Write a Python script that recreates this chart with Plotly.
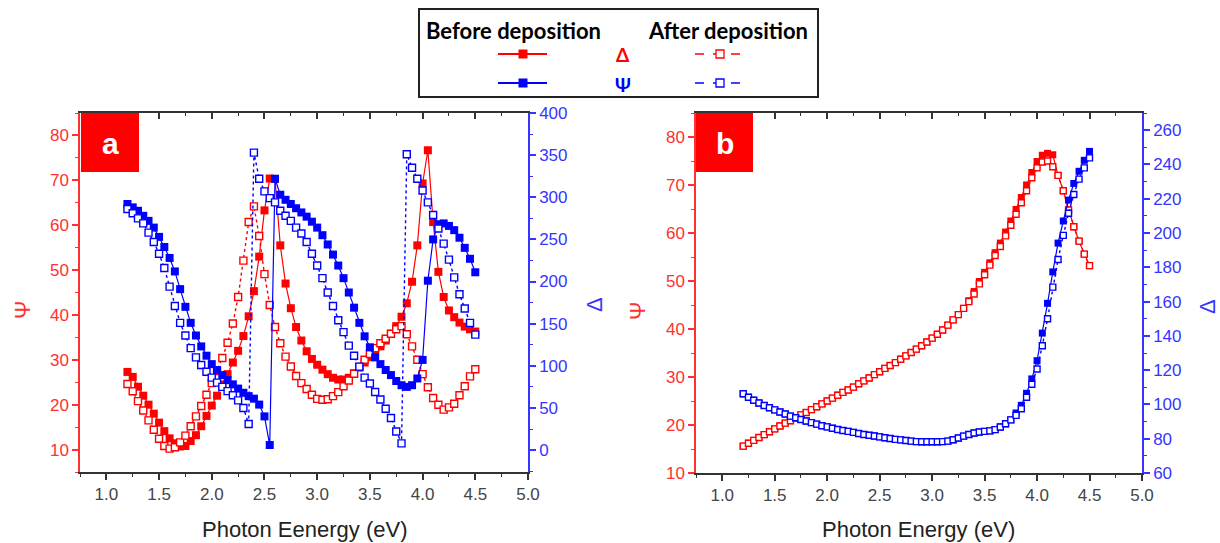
import plotly.graph_objects as go

# ---------------- data ----------------
energy = [1.20, 1.25, 1.30, 1.35, 1.40, 1.45, 1.50, 1.55, 1.60, 1.65,
          1.70, 1.75, 1.80, 1.85, 1.90, 1.95, 2.00, 2.05, 2.10, 2.15,
          2.20, 2.25, 2.30, 2.35, 2.40, 2.45, 2.50, 2.55, 2.60, 2.65,
          2.70, 2.75, 2.80, 2.85, 2.90, 2.95, 3.00, 3.05, 3.10, 3.15,
          3.20, 3.25, 3.30, 3.35, 3.40, 3.45, 3.50, 3.55, 3.60, 3.65,
          3.70, 3.75, 3.80, 3.85, 3.90, 3.95, 4.00, 4.05, 4.10, 4.15,
          4.20, 4.25, 4.30, 4.35, 4.40, 4.45, 4.50]

# panel a
psi_before_a = [27.3, 26.2, 24.0, 22.0, 20.0, 18.0, 16.0, 14.1, 12.5, 11.4,
                10.7, 10.8, 11.9, 13.2, 15.2, 17.5, 19.8, 22.0, 24.5, 26.8,
                29.4, 32.0, 35.3, 39.7, 45.3, 53.0, 63.3, 70.4, 70.3, 55.5,
                47.0, 41.5, 37.3, 34.3, 31.9, 30.2, 28.9, 27.8, 26.8, 26.0,
                25.6, 25.6, 26.0, 27.0, 28.3, 29.4, 30.6, 31.8, 33.0, 34.3,
                35.8, 37.5, 39.6, 42.6, 47.4, 55.5, 69.3, 76.7, 60.7, 49.6,
                44.0, 41.0, 39.5, 38.3, 37.4, 36.8, 36.3]
psi_after_a = [24.6, 23.0, 20.8, 18.7, 16.5, 14.4, 12.4, 10.8, 10.2, 10.5,
               11.6, 13.1, 15.2, 17.4, 19.7, 22.2, 24.8, 27.5, 30.4, 33.8,
               38.1, 44.0, 52.1, 60.7, 64.2, 57.6, 49.1, 42.2, 37.3, 33.7,
               30.7, 28.5, 26.4, 24.8, 23.5, 22.2, 21.3, 21.1, 21.2, 21.9,
               22.8, 24.1, 25.4, 26.9, 28.4, 30.0, 31.3, 32.6, 33.7, 34.7,
               35.8, 36.8, 37.5, 35.7, 33.0, 30.0, 26.8, 23.9, 21.5, 20.0,
               18.9, 19.4, 20.2, 22.1, 24.1, 26.3, 27.9]
delta_before_a = [292, 288, 284, 278, 272, 264, 253, 241, 228, 212,
                  191, 170, 151, 136, 123, 112, 102, 95, 89, 83,
                  78, 73, 68, 64, 61, 54, 40, 6, 322, 303,
                  297, 292, 287, 282, 277, 271, 264, 255, 244, 232,
                  219, 204, 187, 169, 151, 135, 122, 110, 102, 95,
                  89, 82, 77, 75, 77, 85, 107, 201, 250, 268,
                  269, 266, 261, 252, 240, 227, 211]
delta_after_a = [286, 281, 275, 269, 258, 247, 233, 216, 194, 171,
                 151, 136, 121, 110, 101, 93, 86, 80, 75, 70,
                 65, 59, 50, 31, 353, 322, 307, 299, 294, 284,
                 278, 272, 264, 257, 247, 233, 219, 204, 187, 171,
                 154, 140, 124, 112, 99, 86, 79, 69, 60, 49,
                 38, 22, 8, 351, 335, 322, 308, 294, 279, 263,
                 245, 226, 205, 185, 168, 151, 137]

# panel b
psi_before_b = [15.6, 16.2, 16.8, 17.4, 18.0, 18.6, 19.2, 19.8, 20.4, 20.9,
                21.5, 22.1, 22.6, 23.2, 23.8, 24.4, 25.0, 25.6, 26.2, 26.8,
                27.3, 27.9, 28.6, 29.2, 29.8, 30.5, 31.1, 31.8, 32.4, 33.0,
                33.7, 34.4, 35.1, 35.8, 36.5, 37.3, 38.1, 38.9, 39.8, 40.8,
                41.9, 43.0, 44.3, 45.9, 47.8, 49.9, 51.8, 53.8, 55.9, 57.9,
                60.2, 62.5, 64.9, 67.4, 70.0, 72.6, 74.9, 76.2, 76.6, 76.3,
                72.0, 68.8, 64.8, 61.3, 58.3, 55.6, 53.2]
psi_after_b = [15.6, 16.2, 16.8, 17.4, 18.0, 18.6, 19.2, 19.8, 20.4, 20.9,
               21.5, 22.1, 22.6, 23.2, 23.8, 24.4, 25.0, 25.6, 26.2, 26.8,
               27.3, 27.9, 28.6, 29.2, 29.8, 30.5, 31.1, 31.8, 32.4, 33.0,
               33.7, 34.4, 35.1, 35.8, 36.5, 37.3, 38.1, 38.9, 39.8, 40.8,
               41.9, 43.0, 44.3, 45.7, 47.3, 49.4, 51.3, 53.3, 55.3, 57.2,
               59.4, 61.6, 63.9, 66.3, 68.8, 71.5, 73.6, 74.8, 75.0, 73.8,
               72.0, 68.8, 64.8, 61.3, 58.3, 55.6, 53.2]
delta_before_b = [106.2, 104.2, 102.4, 100.8, 99.4, 98.1, 96.8, 95.6, 94.4, 93.2,
                  92.2, 91.2, 90.3, 89.4, 88.5, 87.6, 86.9, 86.1, 85.4, 84.8,
                  84.3, 83.7, 83.0, 82.5, 82.0, 81.6, 81.1, 80.6, 80.1, 79.6,
                  79.3, 79.0, 78.6, 78.3, 78.2, 78.2, 78.2, 78.2, 78.3, 78.6,
                  79.4, 80.4, 81.5, 82.5, 83.3, 83.9, 84.3, 84.6, 85.3, 86.8,
                  88.7, 91.0, 95.0, 99.5, 106.5, 114.9, 125.5, 141.6, 159.0, 177.3,
                  194.1, 207.0, 219.2, 228.9, 236.0, 242.4, 247.6]
delta_after_b = [106.2, 104.2, 102.4, 100.8, 99.4, 98.1, 96.8, 95.6, 94.4, 93.2,
                 92.2, 91.2, 90.3, 89.4, 88.5, 87.6, 86.9, 86.1, 85.4, 84.8,
                 84.3, 83.7, 83.0, 82.5, 82.0, 81.6, 81.1, 80.6, 80.1, 79.6,
                 79.3, 79.0, 78.6, 78.3, 78.2, 78.2, 78.2, 78.2, 78.3, 78.6,
                 79.4, 80.4, 81.5, 82.5, 83.3, 83.9, 84.3, 84.6, 85.3, 86.8,
                 88.7, 91.0, 93.6, 97.5, 104.2, 111.8, 120.7, 134.2, 150.0, 168.4,
                 184.5, 198.6, 211.5, 222.5, 231.4, 238.0, 243.8]

x_ticks = [1.0, 1.5, 2.0, 2.5, 3.0, 3.5, 4.0, 4.5, 5.0]
x_ticktext = ["1.0", "1.5", "2.0", "2.5", "3.0", "3.5", "4.0", "4.5", "5.0"]

# ---------------- styling ----------------
W, H = 1220, 543
RED = "#ff0000"
BLUE = "#0000ff"
AXRED = "#ff3030"
AXBLUE = "#3535ff"
DARK = "#333333"
TICKFONT = "Liberation Sans, Arial, sans-serif"


def px(x):
    return x / W


def py(y):
    return 1 - y / H


fig = go.Figure()


def add_series(y, xa, ya, color, filled, size):
    if filled:
        marker = dict(symbol="square", size=size, color=color, line=dict(width=0))
        line = dict(color=color, width=1.2)
    else:
        marker = dict(symbol="square", size=size - 1, color="white",
                      line=dict(color=color, width=1.4))
        line = dict(color=color, width=1.4, dash="dot")
    fig.add_trace(go.Scatter(x=energy, y=y, xaxis=xa, yaxis=ya, mode="lines+markers",
                             marker=marker, line=line, showlegend=False,
                             hoverinfo="skip"))


# panel a
add_series(psi_before_a, "x", "y", RED, True, 8)
add_series(psi_after_a, "x", "y", RED, False, 8)
add_series(delta_before_a, "x", "y2", BLUE, True, 8)
add_series(delta_after_a, "x", "y2", BLUE, False, 8)
# panel b
add_series(psi_before_b, "x3", "y3", RED, True, 7)
add_series(psi_after_b, "x3", "y3", RED, False, 7)
add_series(delta_before_b, "x3", "y4", BLUE, True, 7)
add_series(delta_after_b, "x3", "y4", BLUE, False, 7)

# dummy traces so the top (mirror) axes are drawn
fig.add_trace(go.Scatter(x=[None], y=[None], xaxis="x5", yaxis="y", showlegend=False))
fig.add_trace(go.Scatter(x=[None], y=[None], xaxis="x6", yaxis="y3", showlegend=False))


def xaxis_bottom(domain, anchor):
    return dict(domain=domain, anchor=anchor, range=[0.75, 5.0], automargin=False,
                tickmode="array", tickvals=x_ticks, ticktext=x_ticktext,
                ticks="outside", ticklen=6, tickwidth=1.5, tickcolor=DARK,
                showline=True, linecolor=DARK, linewidth=1.5,
                minor=dict(dtick=0.25, tick0=0, ticks="outside", ticklen=3,
                           tickwidth=1.2, tickcolor=DARK),
                tickfont=dict(family=TICKFONT, size=17, color="#444"),
                showgrid=False, zeroline=False, fixedrange=True)


def xaxis_top(domain, anchor, overlay):
    return dict(domain=domain, anchor=anchor, overlaying=overlay, side="top",
                range=[0.75, 5.0], tickmode="array", tickvals=x_ticks, automargin=False,
                ticks="inside", ticklen=6, tickwidth=1.5, tickcolor=DARK,
                showticklabels=False, showline=True, linecolor=DARK, linewidth=1.5,
                minor=dict(dtick=0.25, tick0=0, ticks="inside", ticklen=3,
                           tickwidth=1.2, tickcolor=DARK),
                showgrid=False, zeroline=False)


def yaxis(domain, anchor, rng, dtick, minor, color, side="left", overlay=None):
    d = dict(domain=domain, anchor=anchor, range=rng, dtick=dtick, tick0=0,
             automargin=False,
             ticks="outside", ticklen=6, tickwidth=1.5, tickcolor=color,
             showline=True, linecolor=color, linewidth=1.5, side=side,
             minor=dict(dtick=minor, tick0=0, ticks="outside", ticklen=3,
                        tickwidth=1.2, tickcolor=color),
             tickfont=dict(family=TICKFONT, size=17, color=color),
             showgrid=False, zeroline=False)
    if overlay:
        d["overlaying"] = overlay
    return d


ydom_a = [py(472), py(113)]
ydom_b = [py(473), py(113)]
xdom_a = [px(80), px(528)]
xdom_b = [px(696), px(1142)]

fig.update_layout(
    width=W, height=H,
    margin=dict(l=0, r=0, t=0, b=0, autoexpand=False),
    paper_bgcolor="white", plot_bgcolor="white",
    showlegend=False,
    xaxis=xaxis_bottom(xdom_a, "y"),
    xaxis5=xaxis_top(xdom_a, "y", "x"),
    yaxis=yaxis(ydom_a, "x", [5, 85], 10, 5, AXRED),
    yaxis2=yaxis(ydom_a, "x", [-26, 400], 50, 25, AXBLUE, side="right", overlay="y"),
    xaxis3=xaxis_bottom(xdom_b, "y3"),
    xaxis6=xaxis_top(xdom_b, "y3", "x3"),
    yaxis3=yaxis(ydom_b, "x3", [10, 85], 10, 5, AXRED),
    yaxis4=yaxis(ydom_b, "x3", [60, 270], 20, 10, AXBLUE, side="right", overlay="y3"),
)

shapes = []
annotations = []

# panel label boxes
for (x0, x1, lab) in [(81, 139, "a"), (696, 753, "b")]:
    shapes.append(dict(type="rect", xref="paper", yref="paper",
                       x0=px(x0), x1=px(x1), y0=py(172), y1=py(113),
                       fillcolor=RED, line=dict(width=0), layer="above"))
    annotations.append(dict(x=px((x0 + x1) / 2), y=py(143), xref="paper", yref="paper",
                            text="<b>%s</b>" % lab, showarrow=False,
                            font=dict(family="Liberation Sans, Arial", size=30, color="white"),
                            xanchor="center", yanchor="middle"))

# axis titles
title_font_red = dict(family=TICKFONT, size=22, color=AXRED)
title_font_blue = dict(family=TICKFONT, size=22, color=AXBLUE)
annotations += [
    dict(x=px(22), y=py(310), text="Ψ", font=title_font_red, textangle=-90),
    dict(x=px(594), y=py(305), text="Δ", font=title_font_blue, textangle=-90),
    dict(x=px(637), y=py(311), text="Ψ", font=title_font_red, textangle=-90),
    dict(x=px(1207), y=py(307), text="Δ", font=title_font_blue, textangle=-90),
    dict(x=px(304), y=py(529), text="Photon Eenergy (eV)",
         font=dict(family=TICKFONT, size=22, color="#222")),
    dict(x=px(918), y=py(529), text="Photon Energy (eV)",
         font=dict(family=TICKFONT, size=22, color="#222")),
]
for a in annotations[-6:]:
    a.update(xref="paper", yref="paper", showarrow=False, xanchor="center", yanchor="middle")

# legend box
shapes.append(dict(type="rect", xref="paper", yref="paper",
                   x0=px(419), x1=px(818), y0=py(97), y1=py(9),
                   line=dict(color="#222", width=2), fillcolor="white", layer="above"))
LEGFONT = "Lato, Carlito, 'Open Sans', sans-serif"
annotations += [
    dict(x=px(424), y=py(31), text="<b>Before deposition</b>", xanchor="left",
         font=dict(family=LEGFONT, size=22, color="black")),
    dict(x=px(646), y=py(31), text="<b>After deposition</b>", xanchor="left",
         font=dict(family=LEGFONT, size=22, color="black")),
    dict(x=px(623), y=py(55), text="<b>Δ</b>", xanchor="center",
         font=dict(family=LEGFONT, size=19, color=RED)),
    dict(x=px(623), y=py(84), text="<b>Ψ</b>", xanchor="center",
         font=dict(family=LEGFONT, size=19, color=BLUE)),
]
for a in annotations[-4:]:
    a.update(xref="paper", yref="paper", showarrow=False, yanchor="middle")

for (yy, col) in [(54, RED), (83, BLUE)]:
    # before: solid line + filled square
    shapes.append(dict(type="line", xref="paper", yref="paper", x0=px(498), x1=px(547),
                       y0=py(yy), y1=py(yy), line=dict(color=col, width=2), layer="above"))
    shapes.append(dict(type="rect", xref="paper", yref="paper", x0=px(518.5), x1=px(527.5),
                       y0=py(yy + 4.5), y1=py(yy - 4.5), fillcolor=col,
                       line=dict(width=0), layer="above"))
    # after: dashed line + open square
    shapes.append(dict(type="line", xref="paper", yref="paper", x0=px(695), x1=px(742),
                       y0=py(yy), y1=py(yy), line=dict(color=col, width=1.5, dash="dash"),
                       layer="above"))
    shapes.append(dict(type="rect", xref="paper", yref="paper", x0=px(716), x1=px(724),
                       y0=py(yy + 4), y1=py(yy - 4), fillcolor="white",
                       line=dict(color=col, width=1.3), layer="above"))

fig.update_layout(shapes=shapes, annotations=annotations)

fig.write_html("out.html",
               config={"displayModeBar": False},
               post_script="document.body.style.margin='0';"
                           "document.body.style.overflow='hidden';")
